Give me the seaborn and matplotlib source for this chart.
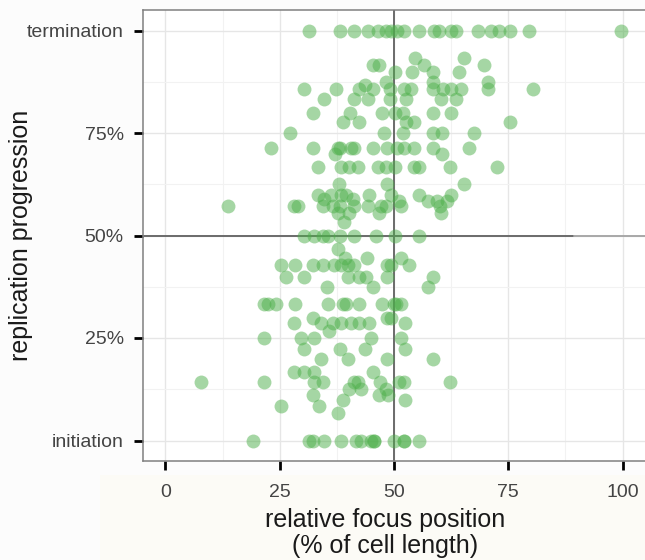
import matplotlib
matplotlib.use("Agg")
import matplotlib.pyplot as plt
import seaborn as sns
import pandas as pd
from matplotlib.patches import Rectangle
from matplotlib.ticker import MultipleLocator

# ---- data ----
focus_pos = [
    31.4, 38.2, 41.2, 44.3, 46.5, 48.2, 49.3, 50.7, 52.2, 55.5, 58.8, 59.9, 62.5, 63.6, 68.4, 71.3, 73.0, 75.4, 79.6, 99.6,
    54.6, 65.4,
    45.4, 46.7, 56.6, 69.7,
    50.2, 53.9, 58.6, 64.3,
    48.2, 58.6, 70.6,
    43.6,
    30.3, 37.3, 42.3, 45.4, 49.1, 52.2, 53.7, 58.6, 60.7, 62.5, 64.7, 70.6, 80.5,
    34.6, 41.2, 44.3, 49.1, 52.6, 60.3, 63.6,
    32.2, 40.4, 47.4, 50.2, 52.0, 58.6, 62.5,
    38.8, 42.3, 52.6, 54.4, 75.4,
    27.2, 47.8, 52.0, 58.6, 60.5, 67.5,
    23.2, 32.2, 37.7, 38.2, 40.6, 41.2, 45.4, 48.5, 50.6, 52.2, 54.4, 58.6, 66.4,
    37.1, 60.5,
    33.3, 38.4, 40.1, 42.1, 46.5, 48.2, 50.2, 54.4, 55.5, 62.3, 72.6,
    37.9, 48.5, 65.4,
    33.3, 36.2, 38.4, 39.5, 44.5, 49.3, 55.5, 62.5,
    34.6, 41.0,
    51.1, 57.5, 59.4, 61.6,
    13.6, 28.1, 28.9, 34.4, 36.6, 38.2, 41.2, 44.3, 47.1, 48.2, 51.5, 60.1,
    37.7, 40.1, 46.7, 60.3,
    39.0,
    30.3, 32.5, 34.4, 35.5, 38.2, 41.2, 46.1, 50.2, 55.5,
    37.7,
    39.3, 44.1, 51.5,
    25.2, 28.3, 32.2, 34.4, 36.8, 38.4, 39.9, 41.2, 48.5, 49.3, 53.3,
    26.3, 30.3, 39.9, 42.3, 43.9, 48.5, 58.6,
    35.3, 45.4, 57.5,
    21.5, 22.4, 24.3, 28.3, 35.5, 38.8, 39.5, 42.3, 47.4, 50.0, 50.4, 51.5,
    32.2, 48.5, 49.3,
    28.1, 34.0, 36.6, 38.4, 40.6, 42.3, 44.5, 52.4,
    35.7,
    21.5, 29.6, 32.5, 45.0, 51.5,
    30.3, 38.2, 43.6, 52.4,
    34.0, 39.9, 48.5, 58.6,
    28.1, 30.3, 32.5, 45.4,
    7.9, 21.5, 32.5, 34.4, 41.2, 42.1, 46.9, 51.1, 52.2, 62.3,
    40.1, 42.8, 48.2,
    32.2, 46.7, 48.7,
    38.8, 52.4,
    25.2, 33.6,
    37.7,
    19.1, 31.4, 32.2, 34.6, 38.4, 41.7, 42.8, 45.0, 45.6, 45.6, 50.0, 52.2, 52.2, 55.5,
]

progress = [
    100, 100, 100, 100, 100, 100, 100, 100, 100, 100, 100, 100, 100, 100, 100, 100, 100, 100, 100, 100,
    93.3, 93.3,
    91.7, 91.7, 91.7, 91.7,
    90, 90, 90, 90,
    87.5, 87.5, 87.5,
    86.7,
    85.7, 85.7, 85.7, 85.7, 85.7, 85.7, 85.7, 85.7, 85.7, 85.7, 85.7, 85.7, 85.7,
    83.3, 83.3, 83.3, 83.3, 83.3, 83.3, 83.3,
    80, 80, 80, 80, 80, 80, 80,
    77.8, 77.8, 77.8, 77.8, 77.8,
    75, 75, 75, 75, 75, 75,
    71.4, 71.4, 71.4, 71.4, 71.4, 71.4, 71.4, 71.4, 71.4, 71.4, 71.4, 71.4, 71.4,
    70, 70,
    66.7, 66.7, 66.7, 66.7, 66.7, 66.7, 66.7, 66.7, 66.7, 66.7, 66.7,
    62.5, 62.5, 62.5,
    60, 60, 60, 60, 60, 60, 60, 60,
    58.8, 58.8,
    58.3, 58.3, 58.3, 58.3,
    57.1, 57.1, 57.1, 57.1, 57.1, 57.1, 57.1, 57.1, 57.1, 57.1, 57.1, 57.1,
    55.6, 55.6, 55.6, 55.6,
    53.3,
    50, 50, 50, 50, 50, 50, 50, 50, 50,
    46.7,
    44.4, 44.4, 44.4,
    42.9, 42.9, 42.9, 42.9, 42.9, 42.9, 42.9, 42.9, 42.9, 42.9, 42.9,
    40, 40, 40, 40, 40, 40, 40,
    37.5, 37.5, 37.5,
    33.3, 33.3, 33.3, 33.3, 33.3, 33.3, 33.3, 33.3, 33.3, 33.3, 33.3, 33.3,
    30, 30, 30,
    28.6, 28.6, 28.6, 28.6, 28.6, 28.6, 28.6, 28.6,
    26.7,
    25, 25, 25, 25, 25,
    22.2, 22.2, 22.2, 22.2,
    20, 20, 20, 20,
    16.7, 16.7, 16.7, 16.7,
    14.3, 14.3, 14.3, 14.3, 14.3, 14.3, 14.3, 14.3, 14.3, 14.3,
    12.5, 12.5, 12.5,
    11.1, 11.1, 11.1,
    10, 10,
    8.3, 8.3,
    6.7,
    0, 0, 0, 0, 0, 0, 0, 0, 0, 0, 0, 0, 0, 0,
]

x_ticks = [0, 25, 50, 75, 100]
x_tick_labels = ["0", "25", "50", "75", "100"]
y_ticks = [0, 25, 50, 75, 100]
y_tick_labels = ["initiation", "25%", "50%", "75%", "termination"]

# ---- figure ----
sns.set_theme(style="white")
plt.rcParams["font.family"] = ["Liberation Sans", "DejaVu Sans"]

W, H = 645, 560
fig = plt.figure(figsize=(W / 100, H / 100), dpi=100, facecolor="#fcfcfc")
fig.patches.append(Rectangle((100 / W, 0), 545 / W, 85 / H, transform=fig.transFigure,
                             facecolor="#fcfbf6", edgecolor="none", zorder=-10))

ax = fig.add_axes([142.5 / W, 99 / H, 503 / W, 451 / H])
ax.set_zorder(1)
ax.set_facecolor("white")

df = pd.DataFrame({"pos": focus_pos, "prog": progress})
sns.scatterplot(data=df, x="pos", y="prog", color="#4DAF4A", alpha=0.5, s=100,
                linewidth=0, ax=ax, zorder=3, legend=False)

ax.set_xlim(-5, 105)
ax.set_ylim(-5, 105)
ax.set_xticks(x_ticks)
ax.set_xticklabels(x_tick_labels)
ax.set_yticks(y_ticks)
ax.set_yticklabels(y_tick_labels)
ax.xaxis.set_minor_locator(MultipleLocator(12.5))
ax.yaxis.set_minor_locator(MultipleLocator(12.5))

ax.set_axisbelow(True)
ax.grid(which="major", color="#e6e6e6", lw=1.0)
ax.grid(which="minor", color="#f2f2f2", lw=0.8)
ax.tick_params(which="minor", length=0)
ax.tick_params(which="major", direction="out", length=6.5, width=2.0, color="black",
               labelsize=14, labelcolor="#444444", pad=7, bottom=True, left=True)
ax.tick_params(axis="x", which="major", pad=10)

for sp in ax.spines.values():
    sp.set_color("#808080")
    sp.set_linewidth(1.1)

ax.axhline(50, xmin=0, xmax=(89.3 + 5) / 110, color="#6b6b6b", lw=1.4, zorder=2)
ax.axhline(50, xmin=(89.3 + 5) / 110, xmax=1, color="#a8a8a8", lw=1.4, zorder=2)
ax.axvline(50, color="#6b6b6b", lw=1.4, zorder=2)

ax.set_xlabel("relative focus position\n(% of cell length)", fontsize=18,
              linespacing=1.1, color="#1a1a1a")
ax.set_ylabel("replication progression", fontsize=18, color="#1a1a1a")
ax.xaxis.set_label_coords((385 - 142.5) / 503, -(508 - 461) / 451)
ax.yaxis.set_label_coords((33 - 142.5) / 503, 0.5)

fig.savefig("out.png", dpi=100, facecolor=fig.get_facecolor())
